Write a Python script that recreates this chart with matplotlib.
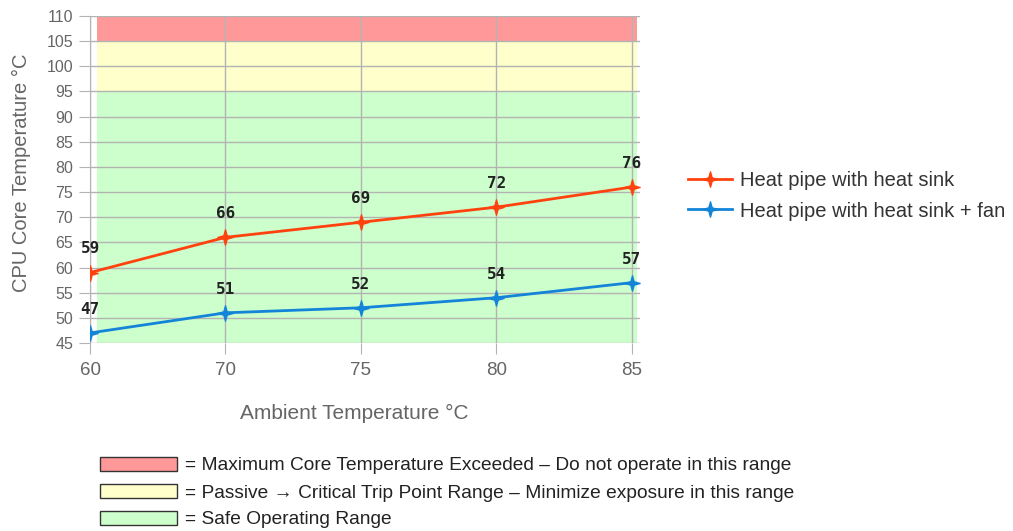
import matplotlib
matplotlib.use("Agg")
import matplotlib.pyplot as plt
from matplotlib.patches import Rectangle
from matplotlib.path import Path

# data
ambient = ["60", "70", "75", "80", "85"]
heat_sink = [59, 66, 69, 72, 76]
heat_sink_fan = [47, 51, 52, 54, 57]
yticks = list(range(45, 111, 5))

# ranges (low, high, colour, legend text)
bands = [
    (105, 110, "#ff9999", "= Maximum Core Temperature Exceeded \u2013 Do not operate in this range"),
    (95, 105, "#ffffcc", "= Passive \u2192 Critical Trip Point Range \u2013 Minimize exposure in this range"),
    (45, 95, "#ccffcc", "= Safe Operating Range"),
]

RED = "#ff420e"
BLUE = "#1484d8"
GRAY = "#666666"

plt.rcParams['font.family'] = ['Liberation Sans', 'DejaVu Sans']

# thin four-pointed star marker
r = 0.22
star = Path([(0, 1), (r, r), (1, 0), (r, -r), (0, -1), (-r, -r), (-1, 0), (-r, r), (0, 1)],
            [Path.MOVETO] + [Path.LINETO] * 7 + [Path.CLOSEPOLY])

fig = plt.figure(figsize=(10.13, 5.31), dpi=100)
ax = fig.add_axes([90 / 1013, (531 - 343) / 531, 550 / 1013, 327 / 531])

x = list(range(len(ambient)))
for lo, hi, col, _ in bands:
    ax.add_patch(Rectangle((0.05, lo), 3.99, hi - lo, facecolor=col, edgecolor="none", zorder=0))

ax.set_xlim(0, 4.06)
ax.set_ylim(45, 110)
ax.set_yticks(yticks)
ax.set_xticks(x)
ax.set_xticklabels(ambient)
ax.grid(True, color="#b3b3b3", linewidth=1, zorder=1)
ax.set_axisbelow(False)
for s in ["top", "right", "bottom"]:
    ax.spines[s].set_visible(False)
ax.spines["left"].set_color("#b3b3b3")
ax.tick_params(axis="y", colors="#b3b3b3", length=8, labelcolor=GRAY, labelsize=11.5, pad=4)
ax.tick_params(axis="x", colors="#b3b3b3", length=8, labelcolor=GRAY, labelsize=13.5, pad=6)

ax.plot(x, heat_sink, color=RED, lw=2, marker=star, ms=11, zorder=3,
        label="Heat pipe with heat sink")
ax.plot(x, heat_sink_fan, color=BLUE, lw=2, marker=star, ms=11, zorder=3,
        label="Heat pipe with heat sink + fan")

for ys in [heat_sink, heat_sink_fan]:
    for xi, yi in zip(x, ys):
        ax.annotate(str(yi), (xi, yi), xytext=(0, 17), textcoords="offset points",
                    ha="center", va="center", fontsize=11.5, fontweight="bold",
                    family="DejaVu Sans Mono", color="#222222", zorder=4,
                    annotation_clip=False)

ax.set_xlabel("Ambient Temperature \u00b0C", fontsize=15, color=GRAY)
ax.xaxis.set_label_coords(0.48, -0.185)
ax.set_ylabel("CPU Core Temperature \u00b0C", fontsize=14.5, color=GRAY)
ax.yaxis.set_label_coords(-0.107, 0.52)

fig.legend(handles=ax.get_lines(), loc="center left",
           bbox_to_anchor=(670 / 1013, (531 - 196) / 531), frameon=False,
           fontsize=14.5, handlelength=2.2, labelspacing=0.55, handletextpad=0.4,
           labelcolor="#333333")

# range key below the chart
fig_h = 531
for i, (lo, hi, col, txt) in enumerate(bands):
    yc = 464 + i * 27
    fig.patches.append(Rectangle((100 / 1013, (fig_h - yc - 7) / fig_h), 77 / 1013, 14 / fig_h,
                                 facecolor=col, edgecolor="#333333", linewidth=1,
                                 transform=fig.transFigure, figure=fig))
    fig.text(185 / 1013, (fig_h - yc - 2) / fig_h, txt, fontsize=13.8, va="center", ha="left",
             color="#222222")

fig.savefig("out.png", dpi=100)
